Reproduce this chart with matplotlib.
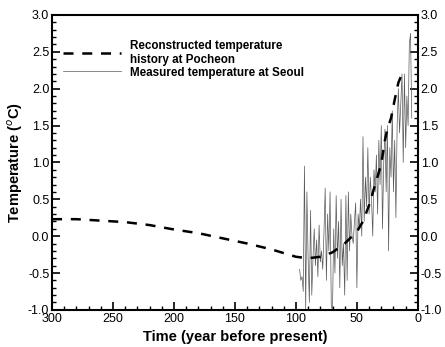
import numpy as np
import matplotlib.pyplot as plt
from matplotlib.ticker import MultipleLocator

plt.rcParams['font.family'] = ['Liberation Sans', 'DejaVu Sans']

# reconstructed temperature history at Pocheon (smooth curve)
rec_years = [300, 280, 260, 240, 220, 200, 180, 160, 140, 120, 100, 90, 80,
             70, 60, 55, 50, 45, 40, 35, 30, 27, 25, 22, 19, 16, 13, 10]
rec_temp = [0.23, 0.23, 0.21, 0.19, 0.15, 0.09, 0.04, -0.03, -0.10, -0.18,
            -0.28, -0.30, -0.28, -0.22, -0.10, -0.02, 0.06, 0.20, 0.42, 0.70,
            0.98, 1.30, 1.45, 1.60, 1.85, 2.08, 2.20, 2.20]

# measured temperature at Seoul (annual, years before present)
meas_years = list(range(97, 4, -1))
meas_temp = [-0.45, -0.60, -0.55, -0.75, 0.95, -1.00, 0.60, -0.30, -0.90, 0.35,
             -0.80, -0.30, 0.10, -0.40, -0.05, -0.55, 0.15, -0.35, -0.20, -0.45,
             0.05, 0.65, -0.60, 0.30, -0.20, 0.60, -0.95, -1.00, 0.10, -0.50,
             0.55, -0.30, 0.20, -0.70, 0.50, -0.40, -0.10, -0.80, 0.55, -0.60,
             0.60, -0.20, 0.30, 0.00, -0.10, 0.20, 0.45, -0.70, 0.30, 0.10,
             0.50, 0.00, 1.35, 0.20, 0.80, 0.40, 1.20, 0.30, 0.80, 0.50,
             0.00, 0.90, 0.60, 1.10, 0.30, 1.30, 0.70, 1.50, 0.10, 1.00,
             1.45, 0.60, 1.50, -0.20, 1.20, 0.80, 1.70, 0.60, 1.30, 0.25,
             1.50, 2.00, 1.40, 1.80, 2.20, 1.00, 2.20, 1.20, 1.90, 1.50,
             2.60, 2.75, 1.60]

fig = plt.figure(figsize=(4.45, 3.47), dpi=100)
ax = fig.add_axes([0.117, 0.107, 0.822, 0.850])

ax.plot(meas_years, meas_temp, color='0.35', lw=0.5,
        label='Measured temperature at Seoul')
ax.plot(rec_years, rec_temp, color='black', lw=1.8, dashes=(4, 3.5),
        label='Reconstructed temperature\nhistory at Pocheon')

ax.set_xlim(300, 0)
ax.set_ylim(-1.0, 3.0)
ax.xaxis.set_major_locator(MultipleLocator(50))
ax.xaxis.set_minor_locator(MultipleLocator(10))
ax.yaxis.set_major_locator(MultipleLocator(0.5))
ax.yaxis.set_minor_locator(MultipleLocator(0.1))
ax.yaxis.set_major_formatter(plt.FormatStrFormatter('%.1f'))
ax.tick_params(which='both', direction='in', right=True, labelright=True,
               labelsize=9, pad=2)
ax.tick_params(which='major', length=6, width=1.2)
ax.tick_params(which='minor', length=3, width=1.0)
for s in ax.spines.values():
    s.set_linewidth(1.5)

ax.set_xlabel('Time (year before present)', fontsize=10.5, fontweight='bold',
              labelpad=4)
ax.set_ylabel('Temperature ($^{o}$C)', fontsize=10.5, fontweight='bold',
              labelpad=2)

h, l = ax.get_legend_handles_labels()
ax.legend(h[::-1], l[::-1], loc='upper left', bbox_to_anchor=(0.0, 0.95),
          frameon=False, prop={'weight': 'bold', 'size': 8.4},
          handlelength=5.0, labelspacing=0.05, handletextpad=0.8)

fig.savefig('out.png', dpi=100)
